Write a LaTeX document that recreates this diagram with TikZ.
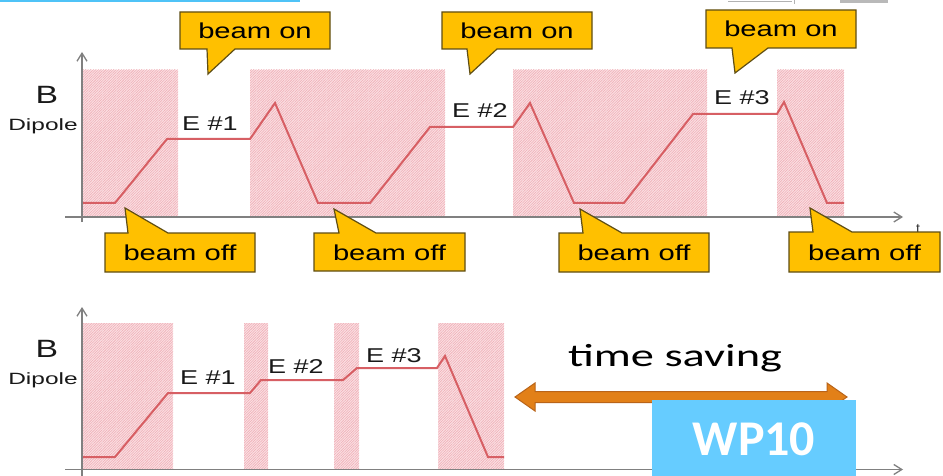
\documentclass[tikz,border=0pt]{standalone}
\usepackage{fontspec}
\setmainfont{Liberation Sans}
\newfontfamily\lsW[FakeStretch=1.35]{Liberation Sans}
\newfontfamily\lsD[FakeStretch=1.5]{Liberation Sans}
\newfontfamily\clW[FakeStretch=1.45]{Carlito}
\newfontfamily\clB{Carlito}
\usetikzlibrary{arrows.meta,patterns.meta}
\definecolor{callfill}{RGB}{255,192,0}
\definecolor{callline}{RGB}{95,78,20}
\definecolor{sig}{RGB}{215,95,100}
\definecolor{pinkbg}{RGB}{250,224,227}
\definecolor{pinkln}{RGB}{240,172,180}
\definecolor{axisgray}{RGB}{128,128,128}
\definecolor{arrowor}{RGB}{226,128,24}
\definecolor{arrowln}{RGB}{185,100,25}
\definecolor{wpblue}{RGB}{102,204,255}
\definecolor{topblue}{RGB}{79,195,247}
\tikzset{
  beamzone/.style={fill=pinkbg, postaction={pattern={Lines[angle=45,distance=1.8pt,line width=0.55pt]}, pattern color=pinkln}},
  sigline/.style={draw=sig, line width=2pt, line join=miter},
  axisline/.style={draw=axisgray, line width=1.3pt, -{Straight Barb[length=8pt,width=10pt]}},
  callshape/.style={draw=callline, fill=callfill, line width=1.2pt, line join=miter},
  calltext/.style={inner sep=0pt, text=black, font=\lsW\fontsize{21.6pt}{24pt}\selectfont},
  elabel/.style={inner sep=0pt, text=black!90, font=\lsW\fontsize{20pt}{22pt}\selectfont},
  blabel/.style={inner sep=0pt, text=black!90, font=\lsW\fontsize{25pt}{27pt}\selectfont},
  dlabel/.style={inner sep=0pt, text=black!90, font=\lsD\fontsize{16.3pt}{18pt}\selectfont},
}
\begin{document}
\begin{tikzpicture}[x=1pt,y=-1pt]
\useasboundingbox (0,0) rectangle (943,476);
\fill[white] (0,0) rectangle (943,476);
% top fragments
\fill[topblue] (0,0) rectangle (300,2.5);
\draw[gray!60, line width=0.8pt] (728,1) -- (792,1) (794,0) -- (794,4);
\fill[gray!55] (840,0) rectangle (888,3);

% ---------- top chart ----------
\path[beamzone] (83,70) rectangle (178,217);
\path[beamzone] (250,70) rectangle (445,217);
\path[beamzone] (513,70) rectangle (707,217);
\path[beamzone] (777,70) rectangle (844,217);

\coordinate (ty0) at (82,222);
\coordinate (ty1) at (82,52);
\coordinate (tx0) at (65,217);
\coordinate (tx1) at (903,217);
\draw[axisline] (ty0) -- (ty1);
\draw[axisline] (tx0) -- (tx1);
\node[inner sep=0pt, anchor=north, text=black!80, font=\fontsize{14pt}{16pt}\selectfont] (tlab) at (918,224) {t};

\draw[sigline] (83,203) -- (115,203) -- (167,139) -- (250,139) -- (275,103) -- (318,203) -- (370,203) -- (430,127) -- (513,127) -- (530,103) -- (574,203) -- (624,203) -- (693,114) -- (777,114) -- (784,102) -- (827,203) -- (844,203);

\node[blabel] (Btop) at (47,95) {B};
\node[dlabel] (Dtop) at (43,126) {Dipole};
\node[elabel] (e1t) at (210,124) {E \#1};
\node[elabel] (e2t) at (480,111) {E \#2};
\node[elabel] (e3t) at (742,98) {E \#3};

% beam on callouts
\path[callshape] (180,12) -- (330,12) -- (330,49) -- (235,49) -- (208,74) -- (207,49) -- (180,49) -- cycle;
\node[calltext] (on1) at (255,30.5) {beam on};
\path[callshape] (442,12) -- (592,12) -- (592,49) -- (497,49) -- (470,74) -- (467,49) -- (442,49) -- cycle;
\node[calltext] (on2) at (517,30.5) {beam on};
\path[callshape] (706,10) -- (856,10) -- (856,48) -- (768,48) -- (735,73) -- (732,48) -- (706,48) -- cycle;
\node[calltext] (on3) at (781,29) {beam on};

% beam off callouts
\path[callshape] (105,272) -- (105,233) -- (128,233) -- (125,208) -- (168,233) -- (255,233) -- (255,272) -- cycle;
\node[calltext] (off1) at (180,253) {beam off};
\path[callshape] (314,271) -- (314,233) -- (339,233) -- (334,209) -- (376,233) -- (465,233) -- (465,271) -- cycle;
\node[calltext] (off2) at (389.5,252.5) {beam off};
\path[callshape] (559,272) -- (559,233) -- (583,233) -- (580,209) -- (622,233) -- (709,233) -- (709,272) -- cycle;
\node[calltext] (off3) at (634,253) {beam off};
\path[callshape] (789,272) -- (789,232) -- (813,232) -- (810,208) -- (852,232) -- (940,232) -- (940,272) -- cycle;
\node[calltext] (off4) at (864.5,252.5) {beam off};

% ---------- bottom chart ----------
\path[beamzone] (83,323) rectangle (173,469);
\path[beamzone] (244,323) rectangle (268,469);
\path[beamzone] (334,323) rectangle (359,469);
\path[beamzone] (438,323) rectangle (504,469);

\coordinate (by0) at (82,476);
\coordinate (by1) at (82,307);
\coordinate (bx0) at (65,469.5);
\coordinate (bx1) at (903,469.5);
\draw[axisline] (by0) -- (by1);
\draw[axisline] (bx0) -- (bx1);

\draw[sigline] (83,457) -- (115,457) -- (168,393) -- (250,393) -- (261,380) -- (343,380) -- (357,368) -- (437,368) -- (445,356) -- (488,457) -- (504,457);

\node[blabel] (Bbot) at (47,349) {B};
\node[dlabel] (Dbot) at (43,380) {Dipole};
\node[elabel] (e1b) at (208,378) {E \#1};
\node[elabel] (e2b) at (296,367) {E \#2};
\node[elabel] (e3b) at (394,356) {E \#3};

\node[inner sep=0pt, text=black, font=\clW\fontsize{32pt}{34pt}\selectfont] (ts) at (675,358) {time saving};

\path[draw=arrowln, fill=arrowor, line width=1pt, line join=miter]
  (515,397) -- (535,383) -- (535,391.5) -- (827,391.5) -- (827,383) -- (847,397) -- (827,411) -- (827,402.5) -- (535,402.5) -- (535,411) -- cycle;

\fill[wpblue] (652,400) rectangle (856,476);
\node[inner sep=0pt, text=white, font=\clB\bfseries\fontsize{50pt}{52pt}\selectfont] (wp) at (754,439) {WP10};
\end{tikzpicture}
\end{document}
